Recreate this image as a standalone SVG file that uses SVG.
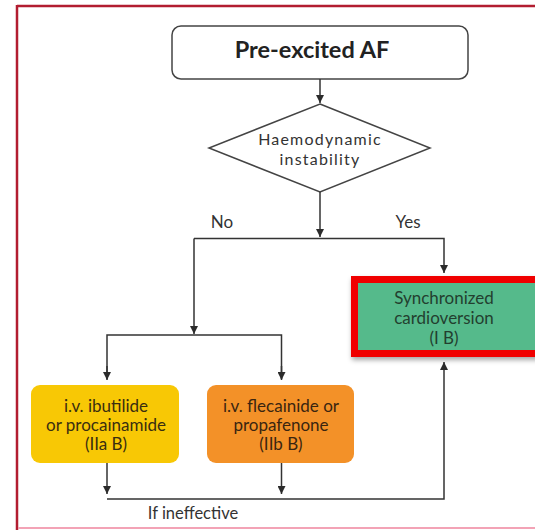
<svg xmlns="http://www.w3.org/2000/svg" width="535" height="530" viewBox="0 0 535 530">
<defs>
<marker id="ah" viewBox="0 0 10 10" refX="10" refY="5" markerWidth="8" markerHeight="8" orient="auto" markerUnits="userSpaceOnUse">
<path d="M0,0 L10,5 L0,10 z" fill="#2b2b2b"/>
</marker>
<filter id="sh" x="-10%" y="-10%" width="130%" height="140%">
<feDropShadow dx="1" dy="3" stdDeviation="2.5" flood-color="#000" flood-opacity="0.35"/>
</filter>
<style>
.t{font-family:Lato,"Open Sans","Liberation Sans",sans-serif;font-size:17px;text-anchor:middle;fill:#333}
.c{fill:none;stroke:#333;stroke-width:1.5}
</style>
</defs>
<rect width="535" height="530" fill="#fff"/>
<g id="frame">
<line x1="17" y1="6" x2="535" y2="6" stroke="#b21d30" stroke-width="2.5"/>
<line x1="17" y1="5" x2="17" y2="530" stroke="#b21d30" stroke-width="2.5"/>
<line x1="18" y1="528" x2="535" y2="528" stroke="#f3a3b6" stroke-width="2"/>
</g>
<g id="n-start">
<rect x="172" y="26" width="296" height="53" rx="9" fill="#fff" stroke="#444" stroke-width="1.5"/>
<text x="312" y="58" class="t" style="font-size:23.5px;font-weight:bold;fill:#222">Pre-excited AF</text>
</g>
<g id="n-diamond">
<polygon points="320,104 430,148 320,192 209,148" fill="#fff" stroke="#444" stroke-width="1.5"/>
<text x="320" y="145" class="t" style="font-size:16px;letter-spacing:1.2px">Haemodynamic</text>
<text x="320" y="164.5" class="t" style="font-size:16px;letter-spacing:1.2px">instability</text>
</g>
<g id="n-cardio">
<rect x="354.5" y="279.5" width="184" height="74" fill="#55ba8b" stroke="#f00000" stroke-width="7" filter="url(#sh)"/>
<text x="444" y="304" class="t" style="fill:#233f2f">Synchronized</text>
<text x="444" y="324" class="t" style="fill:#233f2f">cardioversion</text>
<text x="444" y="344" class="t" style="fill:#233f2f">(I B)</text>
</g>
<g id="n-ibutilide">
<rect x="31" y="385" width="148" height="78" rx="9" fill="#f8c805"/>
<text x="106" y="412" class="t" style="fill:#3a2e10">i.v. ibutilide</text>
<text x="106" y="431" class="t" style="fill:#3a2e10">or procainamide</text>
<text x="106" y="450" class="t" style="fill:#3a2e10">(IIa B)</text>
</g>
<g id="n-flecainide">
<rect x="207" y="385" width="147" height="78" rx="9" fill="#f39128"/>
<text x="281" y="412" class="t" style="fill:#3a2510">i.v. flecainide or</text>
<text x="281" y="431" class="t" style="fill:#3a2510">propafenone</text>
<text x="281" y="450" class="t" style="fill:#3a2510">(IIb B)</text>
</g>
<g id="connectors">
<line x1="320" y1="79" x2="320" y2="103" class="c" marker-end="url(#ah)"/>
<line x1="320" y1="192" x2="320" y2="237" class="c" marker-end="url(#ah)"/>
<polyline points="194,238.5 444,238.5 444,273" class="c" marker-end="url(#ah)"/>
<line x1="194" y1="238.5" x2="194" y2="334" class="c" marker-end="url(#ah)"/>
<polyline points="107,379 107,335 281.5,335 281.5,379" class="c"/>
<line x1="107" y1="366" x2="107" y2="380" class="c" marker-end="url(#ah)"/>
<line x1="281.5" y1="366" x2="281.5" y2="380" class="c" marker-end="url(#ah)"/>
<line x1="107" y1="463" x2="107" y2="494" class="c" marker-end="url(#ah)"/>
<line x1="281.5" y1="463" x2="281.5" y2="494" class="c" marker-end="url(#ah)"/>
<polyline points="107,499 444,499 444,362" class="c" marker-end="url(#ah)"/>
<text x="222" y="228" class="t">No</text>
<text x="408" y="228" class="t">Yes</text>
<text x="193" y="519" class="t" style="font-size:16.5px">If ineffective</text>
</g>
</svg>
